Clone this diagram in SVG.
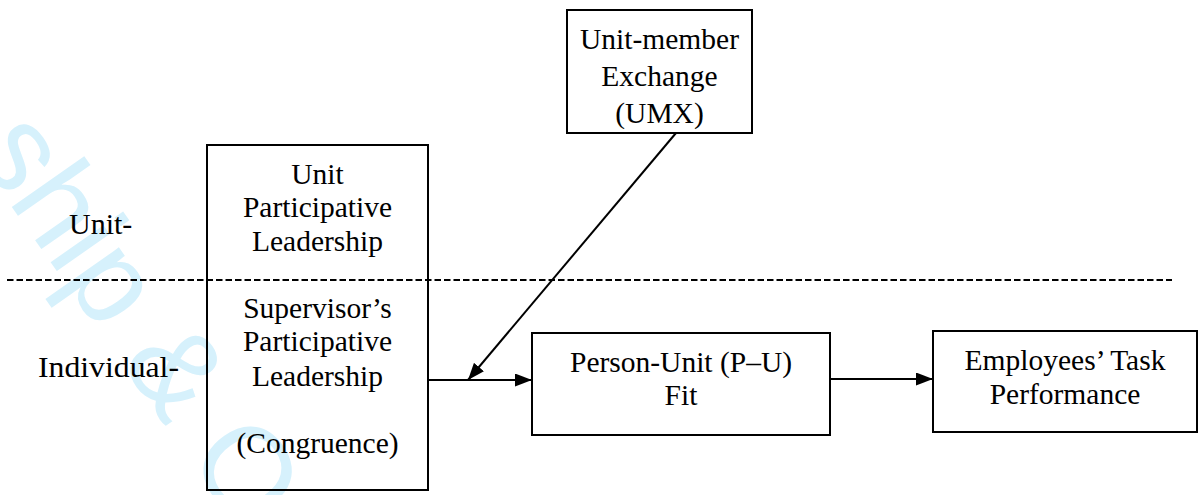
<svg xmlns="http://www.w3.org/2000/svg" width="1199" height="495" viewBox="0 0 1199 495">
<style>
.box{fill:none;stroke:#000;stroke-width:2}
.t{font-family:"Liberation Serif","Times New Roman",serif;font-size:29.5px;fill:#000;text-anchor:middle}
.lab{font-family:"Liberation Serif","Times New Roman",serif;font-size:30px;fill:#000}
.ln{stroke:#000;stroke-width:2;fill:none}
.wm{font-family:"Liberation Sans",Arial,sans-serif;font-size:122px;fill:#d6f1fc}
</style>
<defs>
<marker id="ah" markerWidth="17" markerHeight="13" refX="17" refY="6.5" orient="auto" markerUnits="userSpaceOnUse">
<path d="M0,0 L17,6.5 L0,13 Z" fill="#000"/>
</marker>
</defs>
<rect width="1199" height="495" fill="#fff"/>
<g id="watermark">
<text class="wm" transform="translate(-28,150) rotate(55)">ship &amp; O</text>
</g>
<g id="levels">
<line x1="7" y1="280" x2="1172" y2="280" stroke="#000" stroke-width="2" stroke-dasharray="6.5,3"/>
<text class="lab" x="69" y="234">Unit-</text>
<text class="lab" x="38" y="377" textLength="141" lengthAdjust="spacingAndGlyphs">Individual-</text>
</g>
<g id="node-leadership">
<rect class="box" x="207" y="145" width="221" height="345"/>
<text class="t" x="317.5" y="184">Unit</text>
<text class="t" x="317.5" y="217">Participative</text>
<text class="t" x="317.5" y="251">Leadership</text>
<text class="t" x="317.5" y="318">Supervisor’s</text>
<text class="t" x="317.5" y="351">Participative</text>
<text class="t" x="317.5" y="386">Leadership</text>
<text class="t" x="317.5" y="453">(Congruence)</text>
</g>
<g id="node-umx">
<rect class="box" x="567" y="10" width="185" height="123"/>
<text class="t" x="659.5" y="49">Unit-member</text>
<text class="t" x="659.5" y="86">Exchange</text>
<text class="t" x="659.5" y="123">(UMX)</text>
</g>
<g id="node-pu">
<rect class="box" x="532" y="333" width="298" height="102"/>
<text class="t" x="681" y="372">Person-Unit (P–U)</text>
<text class="t" x="681" y="405">Fit</text>
</g>
<g id="node-perf">
<rect class="box" x="933" y="331" width="264" height="101"/>
<text class="t" x="1065" y="370">Employees’ Task</text>
<text class="t" x="1065" y="404">Performance</text>
</g>
<g id="connectors">
<line class="ln" x1="428" y1="380" x2="532" y2="380" marker-end="url(#ah)"/>
<line class="ln" x1="830" y1="379" x2="933" y2="379" marker-end="url(#ah)"/>
<line class="ln" x1="676" y1="133" x2="468" y2="380" marker-end="url(#ah)"/>
</g>
</svg>
